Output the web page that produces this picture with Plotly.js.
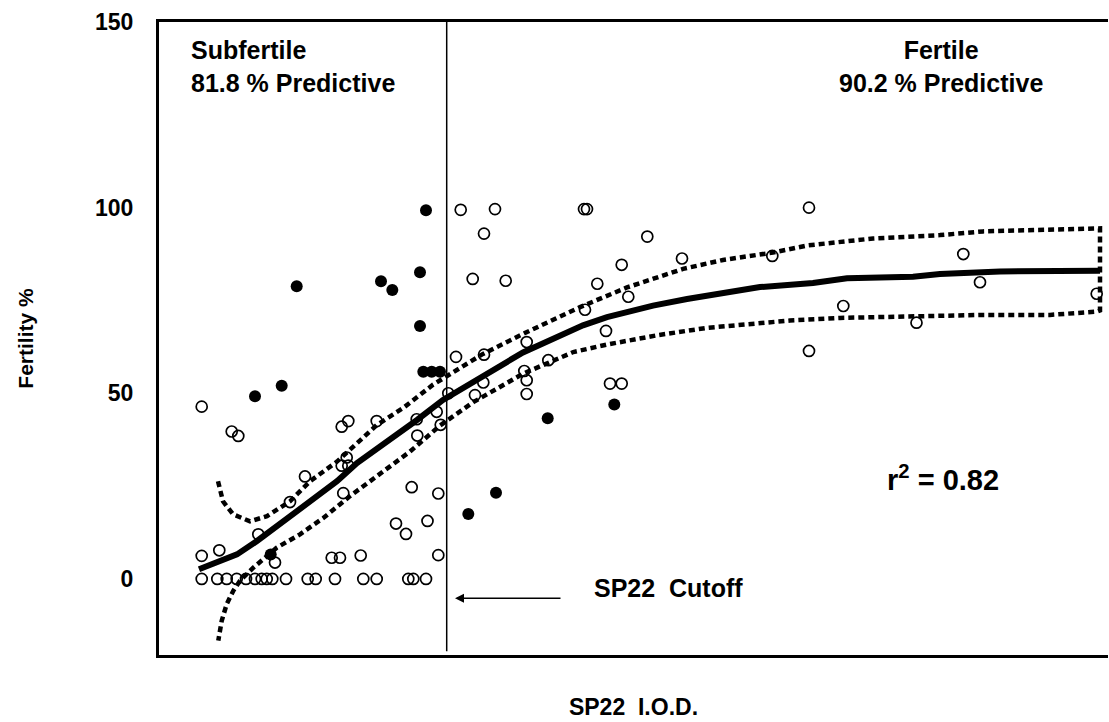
<!DOCTYPE html>
<html>
<head>
<meta charset="utf-8">
<script src="https://cdn.plot.ly/plotly-3.0.1.min.js"></script>
<style>html,body{margin:0;padding:0;background:#fff;}#chart{width:1109px;height:722px;}</style>
</head>
<body>
<div id="chart"></div>
<script>
// SP22 I.O.D. (arbitrary units) vs Fertility %
const zeroX = [4.27, 5.83, 6.77, 7.77, 8.70, 9.60, 10.27, 10.77, 11.33, 12.70, 14.87, 15.67, 17.60, 20.43, 21.77, 24.93, 25.43, 26.70];
const zeroY = zeroX.map(() => 0);

const openX = [4.27, 7.27, 7.93, 14.6, 13.1, 9.93, 4.27, 6.03, 11.6, 18.27, 18.93, 18.77, 18.27, 18.93, 18.43, 21.77,
  25.27, 27.93, 23.7, 24.7, 26.85, 17.27, 18.1, 20.17, 27.93, 25.77, 27.77, 28.17, 25.83,
  30.17, 33.6, 42.5, 42.8, 32.5, 48.83, 31.37, 34.67, 46.27, 52.3, 43.83, 46.93, 42.6, 44.7,
  29.7, 32.5, 36.77, 38.93, 36.53, 36.77, 36.77, 32.43, 31.6, 45.1, 46.27, 28.93,
  65.0, 61.33, 68.43, 65.0, 75.75, 80.43, 82.1, 93.77];
const openY = [46.4, 39.7, 38.5, 27.6, 20.7, 12.0, 6.2, 7.7, 4.4, 41.0, 42.5, 32.7, 30.5, 30.5, 23.1, 42.5,
  24.7, 23.0, 14.9, 12.1, 15.6, 5.7, 5.7, 6.3, 6.4, 43.0, 45.0, 41.5, 38.6,
  99.4, 99.6, 99.6, 99.6, 93.0, 92.2, 80.8, 80.3, 84.6, 86.3, 79.5, 76.0, 72.5, 66.8,
  59.8, 60.4, 63.8, 58.9, 56.0, 53.5, 49.8, 52.9, 49.5, 52.6, 52.6, 50.0,
  100, 87.0, 73.5, 61.4, 69.0, 87.5, 79.9, 76.8];

const filledX = [26.7, 26.1, 22.2, 23.33, 13.77, 26.1, 26.43, 27.27, 28.1, 12.27, 9.6, 11.17, 45.53, 38.87, 30.93, 33.7];
const filledY = [99.3, 82.6, 80.2, 77.8, 78.8, 68.1, 55.8, 55.8, 55.8, 52.0, 49.2, 6.6, 47.0, 43.3, 17.5, 23.2];

const fitX = [4.0, 5.8, 7.8, 9.8, 12.4, 15.1, 17.8, 19.8, 22.4, 25.8, 28.4, 31.4, 36.4, 42.4, 44.8, 49.4, 52.8, 60.1, 65.4, 68.8, 75.4, 78.1, 84.1, 94.1];
const fitY = [2.6, 4.4, 6.6, 10.2, 15.5, 20.5, 26.3, 31.2, 36.1, 42.8, 48.2, 53.0, 61.0, 68.3, 70.5, 73.6, 75.4, 78.6, 79.7, 81.0, 81.4, 82.1, 82.8, 83.0];

const upperX = [5.9, 6.4, 7.4, 9.1, 10.8, 13.1, 15.1, 17.8, 21.8, 24.4, 27.4, 28.1, 32.4, 36.8, 42.1, 46.8, 52.4, 56.4, 61.4, 64.8, 71.4, 78.1, 82.4, 94.1];
const upperY = [26.3, 20.9, 17.4, 15.5, 16.9, 20.9, 26.3, 31.6, 41.5, 46.0, 52.3, 53.5, 60.6, 66.5, 73.2, 78.5, 83.5, 85.9, 87.9, 89.8, 91.7, 92.6, 93.6, 94.4];
const lowerX = [5.93, 6.27, 6.77, 7.43, 8.1, 9.43, 11.77, 14.1, 16.43, 19.1, 22.43, 25.1, 28.1, 31.43, 36.43, 41.43, 44.77, 49.77, 54.77, 60.1, 63.1, 68.1, 74.77, 82.4, 89.1, 93.8, 94.1];
const lowerY = [-16.6, -11.3, -6.8, -3.2, -0.5, 3.0, 8.4, 12.0, 16.4, 22.3, 29.0, 34.3, 41.3, 47.6, 55.3, 61.1, 63.1, 65.6, 67.6, 68.8, 69.6, 70.3, 70.8, 71.1, 71.1, 72.0, 72.3];

const cutoffX = 28.77;
const yTicks = [0, 50, 100, 150];

const FONT = 'Liberation Sans, Arial, Helvetica, sans-serif';

const envX = upperX.concat(lowerX.slice().reverse());
const envY = upperY.concat(lowerY.slice().reverse());

const traces = [
  {x: envX, y: envY, mode: 'lines', type: 'scatter', name: 'Confidence band',
   line: {color: '#000', width: 4.5, dash: '6px,4px'}, hoverinfo: 'skip'},
  {x: fitX, y: fitY, mode: 'lines', type: 'scatter', name: 'Fit',
   line: {color: '#000', width: 6}},
  {x: zeroX.concat(openX), y: zeroY.concat(openY), mode: 'markers', type: 'scatter', name: 'Open',
   marker: {symbol: 'circle-open', size: 11, color: '#000', line: {width: 1.7, color: '#000'}}},
  {x: filledX, y: filledY, mode: 'markers', type: 'scatter', name: 'Filled',
   marker: {symbol: 'circle', size: 12, color: '#000'}}
];

const layout = {
  width: 1109, height: 722,
  margin: {l: 159, r: 1, t: 22, b: 67},
  paper_bgcolor: '#fff', plot_bgcolor: '#fff',
  showlegend: false,
  font: {family: FONT, color: '#000'},
  xaxis: {
    range: [0, 94.9], showticklabels: false, ticks: '', showgrid: false, zeroline: false,
    showline: true, mirror: true, linewidth: 3, linecolor: '#000',
    title: {text: 'SP22&nbsp; I.O.D.', font: {family: FONT, size: 23, weight: 'bold', color: '#000'}, standoff: 42}
  },
  yaxis: {
    range: [-20.5, 150], tickvals: yTicks, ticktext: yTicks.map(String), ticks: '',
    showgrid: false, zeroline: false, showline: true, linewidth: 3, linecolor: '#000',
    tickfont: {family: FONT, size: 23, weight: 'bold', color: '#000'},
    ticklabelstandoff: 18,
    title: {text: 'Fertility %', font: {family: FONT, size: 21, weight: 'bold', color: '#000'}, standoff: 56}
  },
  shapes: [
    {type: 'line', xref: 'x', yref: 'y', x0: cutoffX, x1: cutoffX, y0: -19.5, y1: 150,
     line: {color: '#000', width: 1.5}}
  ],
  annotations: [
    {xref: 'x', yref: 'y', x: 29.6, y: -5.2, ax: 40.3, ay: -5.2, axref: 'x', ayref: 'y',
     text: '', showarrow: true, arrowhead: 2, arrowsize: 1.2, arrowwidth: 1.5, arrowcolor: '#000'},
    {xref: 'x', yref: 'y', x: 43.27, y: -2.4, xanchor: 'left', yanchor: 'middle', showarrow: false,
     text: 'SP22&nbsp; Cutoff', font: {family: FONT, size: 25, weight: 'bold', color: '#000'}},
    {xref: 'paper', yref: 'paper', x: (189 - 159) / 949, y: 1 - (34 - 22) / 633, xanchor: 'left', yanchor: 'top',
     align: 'left', showarrow: false, text: 'Subfertile<br>81.8 % Predictive',
     font: {family: FONT, size: 25, weight: 'bold', color: '#000'}},
    {xref: 'paper', yref: 'paper', x: (941 - 159) / 949, y: 1 - (34 - 22) / 633, xanchor: 'center', yanchor: 'top',
     align: 'center', showarrow: false, text: 'Fertile<br>90.2 % Predictive',
     font: {family: FONT, size: 25, weight: 'bold', color: '#000'}},
    {xref: 'x', yref: 'y', x: (885 - 159) / 10, y: 27.3, xanchor: 'left', yanchor: 'middle', showarrow: false,
     text: 'r<sup>2</sup> = 0.82', font: {family: FONT, size: 29, weight: 'bold', color: '#000'}}
  ]
};

Plotly.newPlot('chart', traces, layout, {staticPlot: true, displayModeBar: false});
</script>
</body>
</html>
